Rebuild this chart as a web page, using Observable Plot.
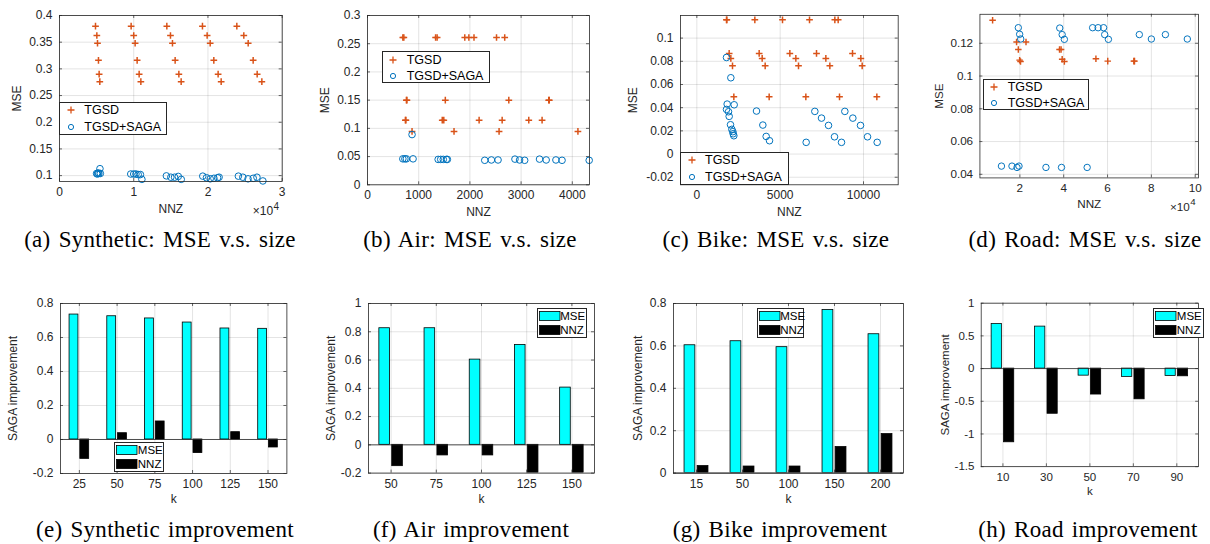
<!DOCTYPE html>
<html><head><meta charset="utf-8">
<script src="https://cdn.jsdelivr.net/npm/d3@7"></script>
<script src="https://cdn.jsdelivr.net/npm/@observablehq/plot@0.6"></script>
<style>
html,body{margin:0;padding:0;background:#fff}
#fig{position:relative;width:1210px;height:544px;overflow:hidden;background:#fff}
.panel{position:absolute;overflow:visible}
.cap{position:absolute;font-family:"Liberation Serif","Times New Roman",serif;font-size:23px;letter-spacing:0.3px;white-space:nowrap;transform:translate(-50%,-50%);color:#000;word-spacing:2px}
.leg{position:absolute;border:1px solid #262626;background:#fff;font-family:"Liberation Sans",Arial,sans-serif;color:#000;box-sizing:border-box}
</style></head>
<body><div id="fig"></div>
<script>
// ---------- Data: scatter panels (NNZ vs MSE) ----------
const synTgsdNnz = [4850,5030,5120,5250,5340,5430, 9650,10000,10190,10460,10730,10960, 14460,14950,15220,15580,16080,16390, 19260,19890,20300,20790,21370,21780, 23890,24830,25420,26090,26630,27260];
const synTgsdMse = [0.38,0.3625,0.348,0.316,0.29,0.276, 0.38,0.3625,0.348,0.316,0.29,0.276, 0.38,0.3625,0.348,0.316,0.29,0.276, 0.38,0.3625,0.348,0.316,0.29,0.276, 0.38,0.3625,0.348,0.316,0.29,0.276];
const synSagaNnz = [5000,5100,5200,5300,5450,5500, 9600,10000,10300,10600,10900,11100, 14400,15000,15500,16000,16400, 19300,19800,20300,20800,21300,21500, 24100,24700,25400,26100,26600,27400];
const synSagaMse = [0.104,0.103,0.105,0.104,0.113,0.104, 0.103,0.103,0.103,0.102,0.102,0.093, 0.0995,0.097,0.097,0.0985,0.093, 0.099,0.096,0.094,0.095,0.096,0.097, 0.099,0.097,0.094,0.095,0.097,0.09];

const airTgsdNnz = [690,710,1330,1360,1900,1980,2080,2520,2680, 760,770,1520,2760,3540,3550, 740,750,1460,1490,2180,2630,3150,3410, 870,1690,2570,4110];
const airTgsdMse = [0.261,0.261,0.261,0.261,0.261,0.261,0.261,0.261,0.261, 0.15,0.15,0.15,0.15,0.15,0.15, 0.1145,0.1145,0.1145,0.1145,0.1145,0.1145,0.1145,0.1145, 0.0945,0.0945,0.0945,0.0945];
const airSagaNnz = [870,690,730,760,890,1380,1430,1480,1540,1560,2290,2420,2550,2880,2970,3070,3360,3490,3680,3800,4330];
const airSagaMse = [0.089,0.046,0.046,0.046,0.046,0.045,0.045,0.045,0.045,0.045,0.0434,0.044,0.044,0.0455,0.044,0.0434,0.0455,0.044,0.044,0.0434,0.0434];

const bikeTgsdNnz = [1780,1800,3480,5140,6760,8280,8480, 1940,3740,5580,7180,9340, 2040,3920,5940,7740,9840, 2140,4100,6100,7980,9920, 2220,4340,6540,8560,10800];
const bikeTgsdMse = [0.1158,0.1158,0.1158,0.1158,0.1158,0.1158,0.1158, 0.0868,0.0868,0.0868,0.0868,0.0868, 0.0825,0.0825,0.0825,0.0825,0.0825, 0.0761,0.0761,0.0761,0.0761,0.0761, 0.0494,0.0494,0.0494,0.0494,0.0494];
const bikeSagaNnz = [1780,2040,2240, 1820,1780,1900,1940,2020,2100,2160,2180,2220, 3580,3960,4160,4360, 6560, 7080,7480,7900,8260,8680, 8880,9360,9820,10240,10820];
const bikeSagaMse = [0.0833,0.0658,0.0425, 0.0431,0.0385,0.0365,0.0325,0.0253,0.0213,0.0193,0.0175,0.0158, 0.0371,0.025,0.0152,0.0115, 0.0101, 0.0368,0.031,0.0247,0.0149,0.0101, 0.0368,0.031,0.0247,0.0149,0.0101];

const roadTgsdNnz = [7560,18500,22800,19300,19900,20300,38100,38800,39300,40300,54700,60100,72000,72300];
const roadTgsdMse = [0.134,0.1208,0.1208,0.1162,0.1097,0.1089,0.1162,0.1162,0.1103,0.1089,0.1105,0.1091,0.1091,0.1091];
const roadSagaNnz = [19300,19900,20400,38200,39300,40300,53200,55700,58200,58700,60400,74500,80000,86400,96400, 11600,16400,18700,19600,31900,39000,50700];
const roadSagaMse = [0.1295,0.1255,0.1226,0.1293,0.1253,0.1224,0.1295,0.1295,0.1295,0.1253,0.1224,0.1253,0.1226,0.1253,0.1226, 0.045,0.045,0.0442,0.045,0.0442,0.0442,0.0442];

// ---------- Data: bar panels (SAGA improvement vs k) ----------
const synK = [25,50,75,100,125,150];
const synImpMse = [0.735,0.725,0.712,0.688,0.653,0.651];
const synImpNnz = [-0.114,0.037,0.106,-0.08,0.043,-0.047];
const airK = [50,75,100,125,150];
const airImpMse = [0.825,0.825,0.603,0.707,0.405];
const airImpNnz = [-0.151,-0.075,-0.075,-0.2,-0.2];
const bikeK = [15,50,100,150,200];
const bikeImpMse = [0.603,0.622,0.594,0.769,0.655];
const bikeImpNnz = [0.033,0.031,0.031,0.123,0.184];
const roadK = [10,30,50,70,90];
const roadImpMse = [0.681,0.642,-0.108,-0.127,-0.113];
const roadImpNnz = [-1.127,-0.691,-0.397,-0.47,-0.118];

// ---------- Tick values ----------
const synXTicks = [0,10000,20000,30000];
const synYTicks = [0.1,0.15,0.2,0.25,0.3,0.35,0.4];
const airXTicks = [0,1000,2000,3000,4000];
const airYTicks = [0,0.05,0.1,0.15,0.2,0.25,0.3];
const bikeXTicks = [0,5000,10000];
const bikeYTicks = [-0.02,0,0.02,0.04,0.06,0.08,0.1];
const roadXTicks = [20000,40000,60000,80000,100000];
const roadYTicks = [0.04,0.06,0.08,0.1,0.12];
const synImpTicks = [-0.2,0,0.2,0.4,0.6,0.8];
const airImpTicks = [-0.2,0,0.2,0.4,0.6,0.8,1];
const bikeImpTicks = [0,0.2,0.4,0.6,0.8];
const roadImpTicks = [-1.5,-1,-0.5,0,0.5,1];

const seriesNames = ["TGSD","TGSD+SAGA"];
const barNames = ["MSE","NNZ"];
const captions = ["(a) Synthetic: MSE v.s. size","(b) Air: MSE v.s. size","(c) Bike: MSE v.s. size","(d) Road: MSE v.s. size",
                  "(e) Synthetic improvement","(f) Air improvement","(g) Bike improvement","(h) Road improvement"];

const ORANGE = "#D95319", BLUE = "#0072BD", CYAN = "#00FFFF", AXC = "#262626";
const FONT = "Liberation Sans, Arial, Helvetica, sans-serif";
const fig = document.getElementById("fig");
const mL = 60, mR = 12, mT = 8, mB = 44;

function fmt(d){ return String(+d.toFixed(4)); }
function fmt4(d){ return String(+(d/1e4).toFixed(4)); }

function innerTicks(xt, yt, W, H){
  const t = 3;
  const st = {stroke: AXC, strokeWidth: 0.7};
  return [
    Plot.tickX(xt, {x: d => d, insetTop: H - t, ...st}),
    Plot.tickX(xt, {x: d => d, insetBottom: H - t, ...st}),
    Plot.tickY(yt, {y: d => d, insetRight: W - t, ...st}),
    Plot.tickY(yt, {y: d => d, insetLeft: W - t, ...st})
  ];
}

function labels(xl, yl, ylab, xdy){
  return [
    Plot.text([xl], {frameAnchor: "bottom", dy: xdy, lineAnchor: "middle", textAnchor: "middle", text: d => d, fontSize: 12, fill: AXC}),
    Plot.text([yl], {frameAnchor: "left", dx: ylab, lineAnchor: "middle", textAnchor: "middle", rotate: -90, text: d => d, fontSize: 12, fill: AXC})
  ];
}

function place(svg, frame){
  const wrap = document.createElement("div");
  wrap.className = "panel";
  wrap.style.left = (frame[0] - mL) + "px";
  wrap.style.top = (frame[1] - mT) + "px";
  wrap.appendChild(svg);
  fig.appendChild(wrap);
}

function scatterPanel(c){
  const [x0,y0,x1,y1] = c.frame;
  const W = x1 - x0, H = y1 - y0;
  const tg = c.tx.map((x,i) => ({x, y: c.ty[i]}));
  const sg = c.sx.map((x,i) => ({x, y: c.sy[i]}));
  const marks = [
    Plot.gridX(c.xt, {stroke: AXC, strokeOpacity: 0.13}),
    Plot.gridY(c.yt, {stroke: AXC, strokeOpacity: 0.13}),
    Plot.axisX({ticks: c.xt, tickSize: 0, tickPadding: 6, tickFormat: c.xf, label: null}),
    Plot.axisY({ticks: c.yt, tickSize: 0, tickPadding: 7, tickFormat: fmt, label: null}),
    ...innerTicks(c.xt, c.yt, W, H),
    Plot.dot(tg, {x: "x", y: "y", symbol: "plus", r: 2.3, stroke: ORANGE, strokeWidth: 1.5}),
    Plot.dot(sg, {x: "x", y: "y", symbol: "circle", r: 3.3, stroke: BLUE, strokeWidth: 1, fill: "none"}),
    Plot.frame({stroke: AXC, strokeWidth: 0.8}),
    ...labels("NNZ", "MSE", c.ylab, 27.5)
  ];
  if (c.exp) {
    marks.push(Plot.text(["×10"], {frameAnchor: "bottom-right", dx: -9, dy: 30, lineAnchor: "middle", textAnchor: "end", text: d => d, fontSize: 12, fill: AXC}));
    marks.push(Plot.text(["4"], {frameAnchor: "bottom-right", dx: -3, dy: 25, lineAnchor: "middle", textAnchor: "end", text: d => d, fontSize: 10, fill: AXC}));
  }
  const svg = Plot.plot({
    width: W + mL + mR, height: H + mT + mB,
    marginLeft: mL, marginRight: mR, marginTop: mT, marginBottom: mB,
    style: {fontFamily: FONT, fontSize: "12px", color: AXC, background: "transparent", overflow: "visible"},
    x: {domain: c.xd}, y: {domain: c.yd},
    marks
  });
  place(svg, c.frame);
  const [lx, ly, lw, lh] = c.leg;
  const d = document.createElement("div");
  d.className = "leg";
  Object.assign(d.style, {left: lx+"px", top: ly+"px", width: lw+"px", height: lh+"px", fontSize: "12.5px"});
  const markers = [
    `<path d="M6 2.5V9.5M2.5 6H9.5" stroke="${ORANGE}" stroke-width="1.3" fill="none"/>`,
    `<circle cx="6" cy="6" r="2.6" stroke="${BLUE}" stroke-width="1" fill="none"/>`
  ];
  seriesNames.forEach((name, i) => {
    const cy = (i === 0 ? 0.26 : 0.77) * lh - 1;
    d.insertAdjacentHTML("beforeend",
      `<svg style="position:absolute;left:${10.5-6}px;top:${cy-6}px" width="12" height="12">${markers[i]}</svg>` +
      `<span style="position:absolute;left:24px;top:${cy-8}px;line-height:16px;white-space:nowrap">${name}</span>`);
  });
  fig.appendChild(d);
}

function barPanel(c){
  const [x0,y0,x1,y1] = c.frame;
  const W = x1 - x0, H = y1 - y0;
  const cats = c.k.map(String);
  const band = W / cats.length;
  const data = cats.map((k,i) => ({k, mse: c.mse[i], nnz: c.nnz[i]}));
  const marks = [
    Plot.gridX(cats, {x: d => d, stroke: AXC, strokeOpacity: 0.13}),
    Plot.gridY(c.yt, {stroke: AXC, strokeOpacity: 0.13}),
    Plot.axisX({ticks: cats, tickSize: 0, tickPadding: 6, label: null}),
    Plot.axisY({ticks: c.yt, tickSize: 0, tickPadding: 7, tickFormat: fmt, label: null}),
    ...innerTicks(cats, c.yt, W, H),
    Plot.barY(data, {x: "k", y: "mse", fill: CYAN, stroke: "#000", strokeWidth: 0.8, insetLeft: band*0.24, insetRight: band*0.525, clip: true}),
    Plot.barY(data, {x: "k", y: "nnz", fill: "#000", stroke: "#000", strokeWidth: 0.8, insetLeft: band*0.525, insetRight: band*0.24, clip: true}),
    Plot.ruleY([0], {stroke: AXC, strokeWidth: 0.8}),
    Plot.frame({stroke: AXC, strokeWidth: 0.8}),
    ...labels("k", "SAGA improvement", c.ylab, 26)
  ];
  const svg = Plot.plot({
    width: W + mL + mR, height: H + mT + mB,
    marginLeft: mL, marginRight: mR, marginTop: mT, marginBottom: mB,
    style: {fontFamily: FONT, fontSize: "12px", color: AXC, background: "transparent", overflow: "visible"},
    x: {type: "band", domain: cats, padding: 0, round: false},
    y: {domain: c.yd},
    marks
  });
  place(svg, c.frame);
  const [lx, ly, lw, lh] = c.leg;
  const d = document.createElement("div");
  d.className = "leg";
  Object.assign(d.style, {left: lx+"px", top: ly+"px", width: lw+"px", height: lh+"px", fontSize: "11.5px"});
  const fills = [CYAN, "#000"];
  barNames.forEach((name, i) => {
    const cy = (i === 0 ? 0.24 : 0.7) * lh;
    d.insertAdjacentHTML("beforeend",
      `<svg style="position:absolute;left:1px;top:${cy-5}px" width="22" height="10"><rect x="0.5" y="0.5" width="20.5" height="9" fill="${fills[i]}" stroke="#000" stroke-width="0.8"/></svg>` +
      `<span style="position:absolute;left:22.5px;top:${cy-7}px;line-height:14px;white-space:nowrap">${name}</span>`);
  });
  fig.appendChild(d);
}

scatterPanel({frame:[59.3,14.7,282,180.7], xd:[0,30000], yd:[0.089,0.4], xt:synXTicks, yt:synYTicks, xf:fmt4, exp:true,
  tx:synTgsdNnz, ty:synTgsdMse, sx:synSagaNnz, sy:synSagaMse, leg:[59.3,101.7,107.5,33.5], ylab:-42});
scatterPanel({frame:[367,14.7,589,184], xd:[0,4336], yd:[0,0.3], xt:airXTicks, yt:airYTicks, xf:fmt, exp:false,
  tx:airTgsdNnz, ty:airTgsdMse, sx:airSagaNnz, sy:airSagaMse, leg:[381.7,51.3,108.5,32], ylab:-42});
scatterPanel({frame:[680,14.7,897.7,184], xd:[-980,12080], yd:[-0.0265,0.1195], xt:bikeXTicks, yt:bikeYTicks, xf:fmt, exp:false,
  tx:bikeTgsdNnz, ty:bikeTgsdMse, sx:bikeSagaNnz, sy:bikeSagaMse, leg:[680,152,108.5,32.5], ylab:-47});
scatterPanel({frame:[981.3,14,1205.7,182], xd:[1780,101500], yd:[0.0378,0.1377], xt:roadXTicks, yt:roadYTicks, xf:fmt4, exp:true,
  tx:roadTgsdNnz, ty:roadTgsdMse, sx:roadSagaNnz, sy:roadSagaMse, leg:[982.7,78.7,106,31.5], ylab:-42});

barPanel({frame:[60.3,302.7,286.7,472.7], yd:[-0.2,0.8], yt:synImpTicks, k:synK, mse:synImpMse, nnz:synImpNnz, leg:[114.3,441.7,50,30.5], ylab:-47});
barPanel({frame:[368.3,302.7,594.3,472.3], yd:[-0.2,1], yt:airImpTicks, k:airK, mse:airImpMse, nnz:airImpNnz, leg:[536.7,308.3,50.6,30], ylab:-37});
barPanel({frame:[672.7,302.7,902.7,472.3], yd:[0,0.8], yt:bikeImpTicks, k:bikeK, mse:bikeImpMse, nnz:bikeImpNnz, leg:[756.7,308.3,47.5,30], ylab:-35});
barPanel({frame:[983.4,302.7,1209.4,472.7], yd:[-1.5,1], yt:roadImpTicks, k:roadK, mse:roadImpMse, nnz:roadImpNnz, leg:[1153.3,308.3,51,30], ylab:-37});

const capPos = [[160,240],[470,240],[776,240],[1085,240],[165,530],[471,530],[780,530],[1088,530]];
captions.forEach((t,i) => {
  const d = document.createElement("div");
  d.className = "cap";
  d.textContent = t;
  d.style.left = capPos[i][0] + "px";
  d.style.top = capPos[i][1] + "px";
  fig.appendChild(d);
});
</script>
</body></html>
